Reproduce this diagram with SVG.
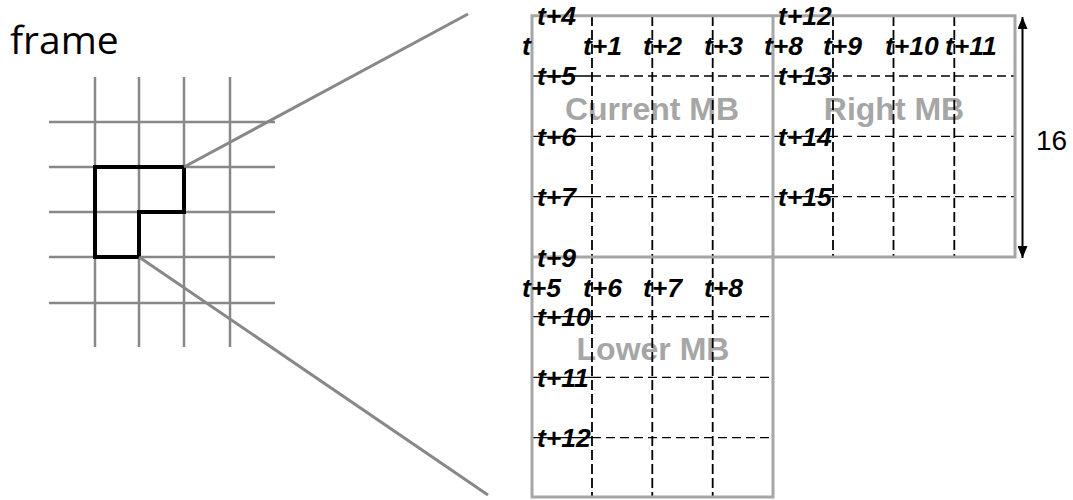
<svg xmlns="http://www.w3.org/2000/svg" width="1073" height="500" viewBox="0 0 1073 500">
  <style>
    .sg { stroke: #888888; stroke-width: 2.5; fill: none; }
    .zoomline { stroke: #888888; stroke-width: 3; fill: none; }
    .mb { stroke: #A6A6A6; stroke-width: 3; fill: none; }
    .hd { stroke: #000; stroke-width: 1.3; stroke-dasharray: 9 5; fill: none; }
    .hs { stroke: #000; stroke-width: 1.3; fill: none; }
    .vd { stroke: #000; stroke-width: 1.8; stroke-dasharray: 10 4; fill: none; }
    .lbl { font-family: "Liberation Sans", Arial, sans-serif; font-weight: bold; font-style: italic; font-size: 26.5px; fill: #000; }
    .mbl { font-family: "Liberation Sans", Arial, sans-serif; font-weight: bold; font-size: 32px; fill: #A6A6A6; text-anchor: middle; }
    .title { font-family: "Open Sans", "Liberation Sans", sans-serif; font-size: 39px; fill: #000; }
    .dim { font-family: "Liberation Sans", Arial, sans-serif; font-size: 28px; fill: #000; }
  </style>
  <defs>
    <marker id="ah" viewBox="0 0 12 10" refX="12" refY="5" markerWidth="12" markerHeight="10" markerUnits="userSpaceOnUse" orient="auto-start-reverse">
      <path d="M0,0 L12,5 L0,10 z" fill="#000"/>
    </marker>
  </defs>
  <rect width="1073" height="500" fill="#fff"/>

  <g id="frame">
    <text class="title" x="10" y="54">frame</text>
    <g id="frame-grid">
      <line class="sg" x1="95" y1="77" x2="95" y2="347"/>
      <line class="sg" x1="139" y1="77" x2="139" y2="347"/>
      <line class="sg" x1="184" y1="77" x2="184" y2="347"/>
      <line class="sg" x1="230" y1="77" x2="230" y2="347"/>
      <line class="sg" x1="49" y1="122" x2="275" y2="122"/>
      <line class="sg" x1="49" y1="167" x2="275" y2="167"/>
      <line class="sg" x1="49" y1="212" x2="275" y2="212"/>
      <line class="sg" x1="49" y1="257" x2="275" y2="257"/>
      <line class="sg" x1="49" y1="303" x2="275" y2="303"/>
    </g>
    <path id="frame-L" d="M95,167 L184,167 L184,212 L139,212 L139,257 L95,257 Z" fill="none" stroke="#000" stroke-width="4" stroke-linejoin="miter"/>
  </g>

  <g id="connectors">
    <line class="zoomline" x1="184" y1="167" x2="468" y2="14"/>
    <line class="zoomline" x1="139" y1="257" x2="488" y2="495"/>
    <line x1="1022.5" y1="17" x2="1022.5" y2="258" stroke="#000" stroke-width="2" marker-start="url(#ah)" marker-end="url(#ah)"/>
  </g>

  <g id="mb-names">
    <text class="mbl" x="652" y="120">Current MB</text>
    <text class="mbl" x="894" y="120">Right MB</text>
    <text class="mbl" x="653" y="360">Lower MB</text>
  </g>

  <g id="current-mb">
    <line class="hs" x1="532" y1="76" x2="592" y2="76"/>
    <line class="hs" x1="532" y1="136.3" x2="592" y2="136.3"/>
    <line class="hs" x1="532" y1="196.7" x2="592" y2="196.7"/>
    <line class="hd" x1="592" y1="76" x2="773" y2="76"/>
    <line class="hd" x1="592" y1="136.3" x2="773" y2="136.3"/>
    <line class="hd" x1="592" y1="196.7" x2="773" y2="196.7"/>
    <line class="vd" x1="592" y1="16" x2="592" y2="497"/>
    <line class="vd" x1="652.3" y1="16" x2="652.3" y2="497"/>
    <line class="vd" x1="712.7" y1="16" x2="712.7" y2="497"/>
  </g>

  <g id="right-mb">
    <line class="hd" x1="773" y1="76" x2="1015" y2="76"/>
    <line class="hd" x1="773" y1="136.3" x2="1015" y2="136.3"/>
    <line class="hd" x1="773" y1="196.7" x2="1015" y2="196.7"/>
    <line class="vd" x1="833" y1="16" x2="833" y2="257"/>
    <line class="vd" x1="893.5" y1="16" x2="893.5" y2="257"/>
    <line class="vd" x1="954.3" y1="16" x2="954.3" y2="257"/>
  </g>

  <g id="lower-mb">
    <line class="hs" x1="532" y1="316.7" x2="592" y2="316.7"/>
    <line class="hs" x1="532" y1="377.3" x2="592" y2="377.3"/>
    <line class="hs" x1="532" y1="437.7" x2="592" y2="437.7"/>
    <line class="hd" x1="592" y1="316.7" x2="773" y2="316.7"/>
    <line class="hd" x1="592" y1="377.3" x2="773" y2="377.3"/>
    <line class="hd" x1="592" y1="437.7" x2="773" y2="437.7"/>
  </g>

  <g id="mb-borders">
    <path class="mb" d="M532,15.7 L1015,15.7 L1015,257 L773,257 L773,497 L532,497 Z"/>
    <line class="mb" x1="773" y1="15.7" x2="773" y2="257"/>
    <line class="mb" x1="532" y1="257" x2="773" y2="257"/>
  </g>

  <g id="labels">
    <text class="lbl" x="522" y="55">t</text>
    <text class="lbl" x="583" y="55">t+1</text>
    <text class="lbl" x="643" y="55">t+2</text>
    <text class="lbl" x="704" y="55">t+3</text>
    <text class="lbl" x="764" y="55">t+8</text>
    <text class="lbl" x="823" y="55">t+9</text>
    <text class="lbl" x="885" y="55">t+10</text>
    <text class="lbl" x="945" y="55">t+11</text>

    <text class="lbl" x="537" y="25">t+4</text>
    <text class="lbl" x="537" y="85">t+5</text>
    <text class="lbl" x="537" y="145.5">t+6</text>
    <text class="lbl" x="537" y="206">t+7</text>
    <text class="lbl" x="537" y="266.5">t+9</text>
    <text class="lbl" x="537" y="326">t+10</text>
    <text class="lbl" x="537" y="387">t+11</text>
    <text class="lbl" x="537" y="447">t+12</text>

    <text class="lbl" x="778" y="25">t+12</text>
    <text class="lbl" x="778" y="85">t+13</text>
    <text class="lbl" x="778" y="145.5">t+14</text>
    <text class="lbl" x="778" y="206">t+15</text>

    <text class="lbl" x="522" y="296.5">t+5</text>
    <text class="lbl" x="583" y="296.5">t+6</text>
    <text class="lbl" x="643" y="296.5">t+7</text>
    <text class="lbl" x="704" y="296.5">t+8</text>

    <text class="dim" x="1036" y="150">16</text>
  </g>
</svg>
